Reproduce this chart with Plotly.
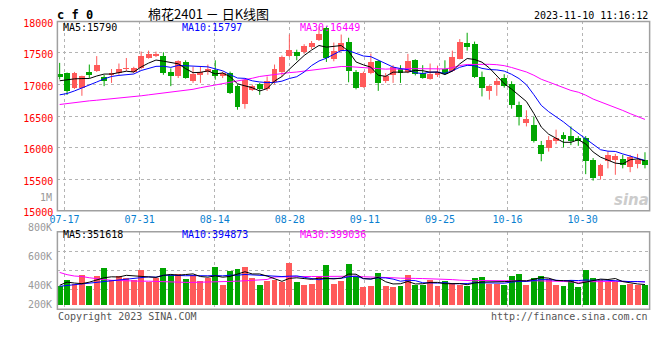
import pandas as pd
import plotly.graph_objects as go

# ---------------- data ----------------
holidays = ['2023-09-29', '2023-10-02', '2023-10-03', '2023-10-04', '2023-10-05', '2023-10-06']
dates = [d for d in pd.bdate_range('2023-07-14', '2023-11-10') if d.strftime('%Y-%m-%d') not in holidays]
date_labels = [d.strftime('%m-%d') for d in dates]

opens = [17164, 17179, 16950, 16950, 17205, 17220, 17113, 17154, 17180, 17241,
         17205, 17256, 17420, 17460, 17460, 17205, 17128, 17358, 17052, 17154,
         17205, 17230, 17128, 17179, 16975, 16694, 16914, 17001, 16924, 17036,
         17195, 17460, 17511, 17522, 17598, 17700, 17894, 17409, 17537, 17675,
         17205, 16965, 17180, 17368, 17052, 17154, 17241, 17205, 17384, 17180,
         17088, 17150, 17246, 17215, 17409, 17665, 17650, 17113, 16899, 16991,
         17103, 17011, 16669, 16398, 16362, 16040, 15995, 16107, 16209, 16184,
         16158, 16158, 15800, 15556, 15785, 15800, 15816, 15699, 15740, 15801]
highs = [17343, 17190, 17200, 17140, 17317, 17450, 17154, 17246, 17333, 17420,
         17282, 17522, 17537, 17522, 17511, 17256, 17384, 17384, 17282, 17282,
         17317, 17384, 17205, 17205, 17001, 17090, 17001, 17026, 17128, 17317,
         17460, 17792, 17552, 17639, 17690, 17920, 17920, 17665, 17792, 17741,
         17230, 17205, 17490, 17384, 17180, 17307, 17307, 17486, 17400, 17307,
         17333, 17300, 17384, 17537, 17720, 17820, 17680, 17205, 16990, 17103,
         17164, 17052, 16730, 16592, 16490, 16107, 16184, 16286, 16245, 16337,
         16184, 16184, 15836, 15745, 15943, 15903, 15887, 15887, 15903, 15928]
lows = [17080, 16837, 16930, 16822, 17103, 17200, 16975, 17026, 17154, 17215,
        17180, 17240, 17410, 17435, 17154, 16975, 17103, 17093, 17026, 17026,
        17154, 17077, 17103, 16850, 16602, 16618, 16899, 16837, 16899, 17001,
        17128, 17435, 17384, 17486, 17562, 17690, 17358, 17368, 17522, 17036,
        16924, 16950, 17164, 16900, 17026, 17026, 17026, 17180, 17144, 17093,
        17077, 17120, 17154, 17205, 17400, 17537, 17103, 16812, 16761, 16822,
        16950, 16618, 16352, 16337, 16082, 15785, 15939, 16056, 16005, 16041,
        16030, 15581, 15479, 15494, 15673, 15571, 15673, 15612, 15673, 15673]
closes = [17118, 16899, 17179, 17128, 17154, 17317, 17052, 17180, 17241, 17266,
          17256, 17450, 17486, 17481, 17179, 17128, 17368, 17103, 17164, 17205,
          17241, 17128, 17179, 16873, 16643, 17077, 16975, 16924, 17062, 17241,
          17435, 17552, 17460, 17614, 17665, 17802, 17420, 17537, 17665, 17215,
          16950, 17190, 17358, 17026, 17128, 17282, 17180, 17368, 17164, 17103,
          17164, 17195, 17164, 17435, 17680, 17588, 17118, 16950, 16975, 17052,
          16975, 16684, 16490, 16454, 16107, 15903, 16117, 16158, 16143, 16107,
          16107, 15785, 15520, 15734, 15877, 15862, 15724, 15852, 15801, 15724]
volumes = [326000, 439000, 355000, 524000, 321000, 507000, 642000, 439000, 507000, 468000,
           439000, 608000, 401000, 468000, 642000, 524000, 541000, 456000, 524000, 411000,
           468000, 659000, 338000, 592000, 625000, 659000, 468000, 338000, 406000, 423000,
           401000, 727000, 389000, 338000, 355000, 507000, 693000, 355000, 406000, 710000,
           495000, 304000, 321000, 558000, 321000, 304000, 321000, 524000, 338000, 338000,
           423000, 321000, 406000, 355000, 338000, 321000, 473000, 490000, 355000, 355000,
           338000, 507000, 541000, 338000, 473000, 507000, 456000, 338000, 321000, 423000,
           304000, 608000, 473000, 423000, 389000, 389000, 338000, 355000, 338000, 338000]

ma5_head = [17060, 17080, 17090, 17095]
ma10_head = [16837, 16858, 16899, 16950, 16990, 17040, 17090, 17128, 17145]
ma30_head = [16684, 16700, 16715, 16730, 16742, 16752, 16762, 16775, 16786, 16798,
             16810, 16822, 16837, 16850, 16862, 16875, 16888, 16905, 16925, 16950,
             16970, 16990, 17011, 17030, 17050, 17077, 17100, 17128, 17145]
vol_ma5_head = [338000, 394000, 377000, 367000]
vol_ma10_head = [321000, 335000, 348000, 360000, 372000, 389000, 405000, 420000, 439000]
vol_ma30_head = [563000, 524000, 500000, 492000, 470000, 450000, 439000, 425000, 418000, 411000,
                 411000, 410000, 410000, 405000, 395000, 389000, 389000, 389000, 389000, 395000,
                 400000, 400000, 402000, 406000, 410000, 420000, 430000, 434000, 440000]

price_ma_labels = ['MA5:15790', 'MA10:15797', 'MA30:16449']
vol_ma_labels = ['MA5:351618', 'MA10:394873', 'MA30:399036']
x_tick_labels = ['07-17', '07-31', '08-14', '08-28', '09-11', '09-25', '10-16', '10-30']
price_ticks = [15000, 15500, 16000, 16500, 17000, 17500, 18000]
vol_axis_labels = ['1M', '800K', '600K', '400K', '200K']

# ---------------- helpers ----------------
W, H = 660, 360
def PX(x):
    return x / W
def PY(y):
    return 1 - y / H

def moving(values, n, head):
    s = pd.Series(values, dtype=float).rolling(n).mean().tolist()
    return list(head) + s[len(head):]

RED, GREEN = '#ff5a5a', '#00a600'
GRID = '#b4b4b4'
FRAME = '#a0a0a0'
MONO = 'DejaVu Sans Mono'

n = len(closes)
idx = list(range(n))
up = [c >= o for o, c in zip(opens, closes)]
colors = [RED if u else GREEN for u in up]

# sina spaces its date grid a touch wider than the candles
tick_idx = [date_labels.index(t) for t in x_tick_labels]
tick_pos = [i * 76 / 75 - 0.35 for i in tick_idx]

fig = go.Figure()

# wicks
for col, flag in ((RED, True), (GREEN, False)):
    wx, wy = [], []
    for i in idx:
        if up[i] == flag:
            wx += [i, i, None]
            wy += [lows[i], highs[i], None]
    fig.add_trace(go.Scatter(x=wx, y=wy, mode='lines', line=dict(color=col, width=1),
                             hoverinfo='skip', showlegend=False, xaxis='x', yaxis='y'))

# bodies
fig.add_trace(go.Bar(x=idx, base=[min(o, c) for o, c in zip(opens, closes)],
                     y=[max(abs(c - o), 12) for o, c in zip(opens, closes)],
                     width=0.8, marker=dict(color=colors, line=dict(width=0)),
                     showlegend=False, xaxis='x', yaxis='y'))

for vals, col in ((moving(closes, 30, ma30_head), '#ff00ff'),
                  (moving(closes, 10, ma10_head), '#0000ff'),
                  (moving(closes, 5, ma5_head), '#000000')):
    fig.add_trace(go.Scatter(x=idx, y=vals, mode='lines', line=dict(color=col, width=1),
                             showlegend=False, xaxis='x', yaxis='y'))

# volume
fig.add_trace(go.Bar(x=idx, y=volumes, width=0.8, marker=dict(color=colors, line=dict(width=0)),
                     showlegend=False, xaxis='x2', yaxis='y2'))
for vals, col in ((moving(volumes, 30, vol_ma30_head), '#ff00ff'),
                  (moving(volumes, 10, vol_ma10_head), '#0000ff'),
                  (moving(volumes, 5, vol_ma5_head), '#000000')):
    fig.add_trace(go.Scatter(x=idx, y=vals, mode='lines', line=dict(color=col, width=1),
                             showlegend=False, xaxis='x2', yaxis='y2'))

# ---------------- layout ----------------
x_left, x_right = 50, 649.5
xr = [(x_left - 52.3) / 7.5, (x_right - 52.3) / 7.5]
main_top, main_bot = 18, 214
vol_top, vol_bot = 235.7, 315.7
vol_per_px = 16900
vol_zero_px = 311
vol_range = [-(vol_bot - vol_zero_px) * vol_per_px, (vol_zero_px - vol_top) * vol_per_px]
vol_grid = [vol_range[0] + f * (vol_range[1] - vol_range[0]) for f in (0.25, 0.5, 0.75)]

common_x = dict(range=xr, domain=[PX(x_left), PX(x_right)], showline=False, zeroline=False,
                showgrid=True, gridcolor=GRID, griddash='dot', gridwidth=1,
                tickmode='array', tickvals=tick_pos, ticks='', fixedrange=True)

fig.update_layout(
    width=W, height=H, margin=dict(l=0, r=0, t=0, b=0), autosize=False,
    paper_bgcolor='white', plot_bgcolor='white', barmode='overlay', bargap=0,
    showlegend=False, hovermode=False,
    font=dict(family=MONO, size=10, color='#000'),
    xaxis=dict(**common_x, anchor='y', ticktext=x_tick_labels, showticklabels=True,
               tickfont=dict(family=MONO, size=10, color='#0a7fd0'), ticklabelstandoff=1),
    yaxis=dict(domain=[PY(main_bot), PY(main_top)], range=[15000, 18000], anchor='x',
               tickmode='array', tickvals=price_ticks, ticktext=[str(v) for v in price_ticks],
               tickfont=dict(family=MONO, size=10, color='#ff0000'), ticks='',
               showgrid=True, gridcolor=GRID, griddash='dot', gridwidth=1,
               zeroline=False, showline=False, ticklabelstandoff=3, ticklabelshift=2,
               fixedrange=True),
    xaxis2=dict(**common_x, anchor='y2', matches='x', ticktext=['' for _ in tick_pos],
                showticklabels=False),
    yaxis2=dict(domain=[PY(vol_bot), PY(vol_top)], range=vol_range, anchor='x2',
                tickmode='array', tickvals=vol_grid, showticklabels=False, ticks='',
                showgrid=True, gridcolor=GRID, griddash='dot', gridwidth=1,
                zeroline=False, showline=False, fixedrange=True),
)

shapes = []
for top, bot in ((main_top, main_bot), (vol_top, vol_bot)):
    shapes.append(dict(type='rect', xref='paper', yref='paper', x0=PX(x_left), x1=PX(x_right),
                       y0=PY(bot), y1=PY(top), line=dict(color=FRAME, width=1.5), layer='above'))
fig.update_layout(shapes=shapes)

ann = []
def text(x, y, s, color='#000', size=10, anchor='left', family=MONO, bold=False, italic=False):
    if bold:
        s = '<b>' + s + '</b>'
    if italic:
        s = '<i>' + s + '</i>'
    ann.append(dict(x=PX(x), y=PY(y), xref='paper', yref='paper', text=s, showarrow=False,
                    xanchor=anchor, yanchor='middle', font=dict(family=family, size=size, color=color)))

text(48, 11, 'c f 0', size=12, bold=True)
text(140, 10, '棉花2401 － 日K线图', size=13, family='Noto Sans CJK SC')
text(650, 11.5, '2023-11-10 11:16:12', anchor='right')
for s, x, c in zip(price_ma_labels, (54, 174, 294), ('#000000', '#0000ff', '#ff00ff')):
    text(x, 24, s, color=c)
for s, x, c in zip(vol_ma_labels, (54, 174, 294), ('#000000', '#0000ff', '#ff00ff')):
    text(x, 238, s, color=c)
for s, y in zip(vol_axis_labels, (200, 230.7, 260.7, 290.7, 310.7)):
    text(47, y, s, color='#999999', anchor='right')
text(49, 323.5, 'Copyright 2023 SINA.COM', color='#555555')
text(650, 323.5, 'http://finance.sina.com.cn', color='#555555', anchor='right')
text(651, 203, 'sina', color='#cccccc', size=15, anchor='right', family='DejaVu Sans', bold=True, italic=True)
fig.update_layout(annotations=ann)

fig.write_html('out.html', config={'displayModeBar': False, 'staticPlot': True},
               post_script="document.body.style.margin='0';document.body.style.overflow='hidden';")
